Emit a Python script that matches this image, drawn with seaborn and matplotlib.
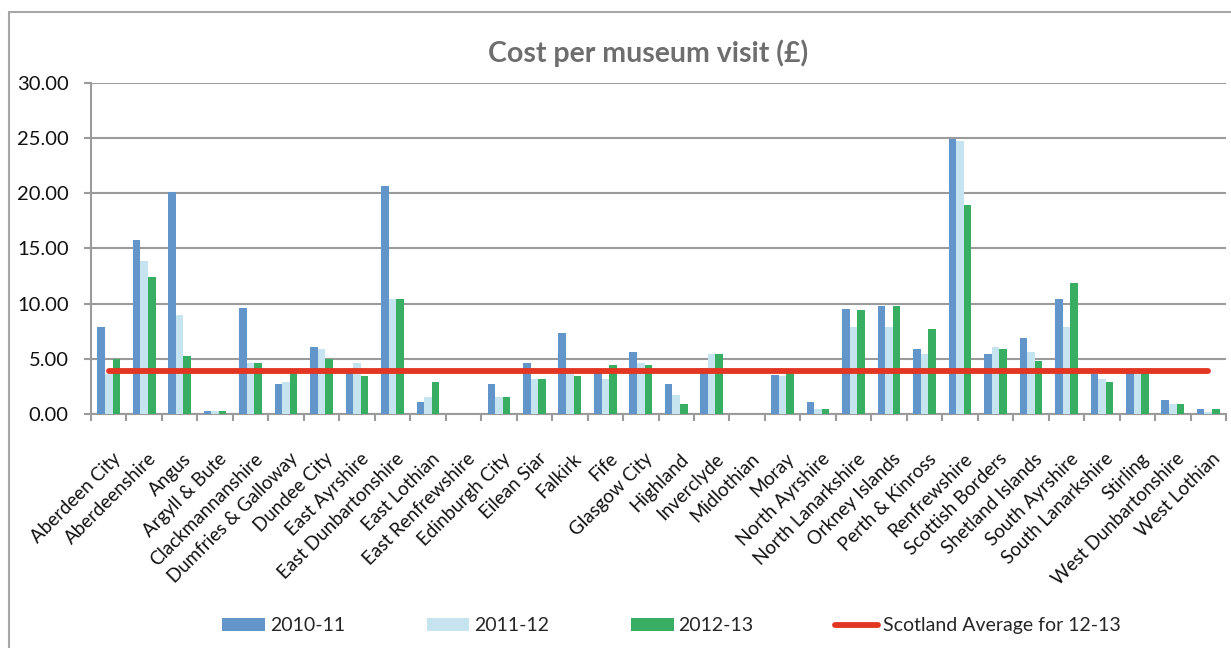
import numpy as np
import pandas as pd
import seaborn as sns
import matplotlib
matplotlib.use("Agg")
import matplotlib.pyplot as plt
import matplotlib.transforms as mtransforms
from matplotlib.patches import Patch
from matplotlib.lines import Line2D

councils = [
    "Aberdeen City", "Aberdeenshire", "Angus", "Argyll & Bute", "Clackmannanshire",
    "Dumfries & Galloway", "Dundee City", "East Ayrshire", "East Dunbartonshire",
    "East Lothian", "East Renfrewshire", "Edinburgh City", "Eilean Siar", "Falkirk",
    "Fife", "Glasgow City", "Highland", "Inverclyde", "Midlothian", "Moray",
    "North Ayrshire", "North Lanarkshire", "Orkney Islands", "Perth & Kinross",
    "Renfrewshire", "Scottish Borders", "Shetland Islands", "South Ayrshire",
    "South Lanarkshire", "Stirling", "West Dunbartonshire", "West Lothian",
]
years = ["2010-11", "2011-12", "2012-13"]

cost_2010_11 = [7.9, 15.8, 20.1, 0.3, 9.6, 2.7, 6.05, 4.0, 20.7, 1.1, 0.0, 2.7,
                4.6, 7.3, 3.9, 5.6, 2.7, 4.2, 0.0, 3.5, 1.1, 9.55, 9.75, 5.85,
                24.9, 5.4, 6.85, 10.4, 3.6, 3.95, 1.3, 0.45]
cost_2011_12 = [3.6, 13.9, 9.0, 0.25, 4.6, 2.9, 5.85, 4.6, 10.4, 1.5, 0.0, 1.5,
                3.15, 3.8, 3.15, 4.6, 1.7, 5.4, 0.0, 3.4, 0.45, 7.9, 7.9, 5.4,
                24.7, 6.05, 5.6, 7.9, 3.15, 3.9, 0.9, 0.2]
cost_2012_13 = [5.0, 12.45, 5.25, 0.3, 4.6, 3.7, 5.0, 3.4, 10.4, 2.9, 0.0, 1.5,
                3.15, 3.4, 4.4, 4.4, 0.9, 5.4, 0.0, 3.9, 0.45, 9.4, 9.75, 7.7,
                18.9, 5.85, 4.8, 11.85, 2.9, 3.85, 0.9, 0.45]
scotland_avg = 3.9
avg_label = "Scotland Average for 12-13"

colors = {"2010-11": "#6296ca", "2011-12": "#c6e4ef", "2012-13": "#38ae63"}
avg_color = "#e23522"
grid_gray = "#9b9b9b"

df = pd.DataFrame({
    "council": councils * 3,
    "year": np.repeat(years, len(councils)),
    "cost": cost_2010_11 + cost_2011_12 + cost_2012_13,
})

sns.set_theme(style="white")
plt.rcParams["font.family"] = ["Lato", "DejaVu Sans"]

fig = plt.figure(figsize=(12.31, 6.48), dpi=100)
ax = fig.add_axes([91 / 1231, 1 - 414 / 648, 1135 / 1231, 331 / 648])

sns.barplot(data=df, x="council", y="cost", hue="year", order=councils,
            hue_order=years, palette=colors, saturation=1, width=0.64,
            linewidth=0, errorbar=None, ax=ax, zorder=3)
sns.lineplot(x=councils, y=[scotland_avg] * len(councils), color=avg_color,
             linewidth=4.2, solid_capstyle="round", ax=ax, zorder=4)

ax.set_ylim(0, 30)
ax.set_xlim(-0.5, len(councils) - 0.5)
ax.set_yticks(np.arange(0, 31, 5))
ax.set_yticklabels([f"{v:.2f}" for v in np.arange(0, 31, 5)], fontsize=14.5, color="#111111")
ax.yaxis.grid(True, color=grid_gray, linewidth=1.5, zorder=0)
ax.set_axisbelow(True)
ax.set_xlabel("")
ax.set_ylabel("")

ax.set_xticks(range(len(councils)))
ax.set_xticklabels(councils, rotation=45, ha="right", rotation_mode="anchor",
                   fontsize=13.5, color="#111111")
ax.set_xticks(np.arange(-0.5, len(councils), 1), minor=True)
ax.tick_params(axis="x", which="major", length=0, pad=26)
ax.tick_params(axis="x", which="minor", length=5, width=1.5, color=grid_gray, direction="out", bottom=True)
ax.tick_params(axis="y", which="major", length=5, width=1.5, color=grid_gray, direction="out", left=True, pad=11)

# nudge the slanted category labels to the right
shift = mtransforms.ScaledTranslation(3 / 100, 0, fig.dpi_scale_trans)
for lbl in ax.get_xticklabels():
    lbl.set_transform(lbl.get_transform() + shift)

for side in ("top", "right"):
    ax.spines[side].set_visible(False)
for side in ("left", "bottom"):
    ax.spines[side].set_color(grid_gray)
    ax.spines[side].set_linewidth(1.5)

fig.text(648 / 1231, 1 - 53 / 648, "Cost per museum visit (£)", fontsize=20.5,
         fontweight="bold", color="#6e6e6e", ha="center", va="center")

if ax.get_legend() is not None:
    ax.get_legend().remove()

handles = [Patch(facecolor=colors[y], edgecolor="none", label=y) for y in years]
handles.append(Line2D([0], [0], color=avg_color, linewidth=4.2,
                      solid_capstyle="round", label=avg_label))
fig.legend(handles=handles, loc="center", bbox_to_anchor=(0.5455, 0.034), ncol=4,
           frameon=False, fontsize=14, handlelength=2.2, handleheight=0.6,
           handletextpad=0.25, columnspacing=4.2)

# chart-area frame along the left and top edges
fig.add_artist(Line2D([9 / 1231, 9 / 1231], [0, 1 - 12 / 648], color="#a6a6a6",
                      linewidth=1.5, transform=fig.transFigure))
fig.add_artist(Line2D([9 / 1231, 1], [1 - 12 / 648, 1 - 12 / 648], color="#a6a6a6",
                      linewidth=1.5, transform=fig.transFigure))

fig.savefig("out.png", dpi=100)
